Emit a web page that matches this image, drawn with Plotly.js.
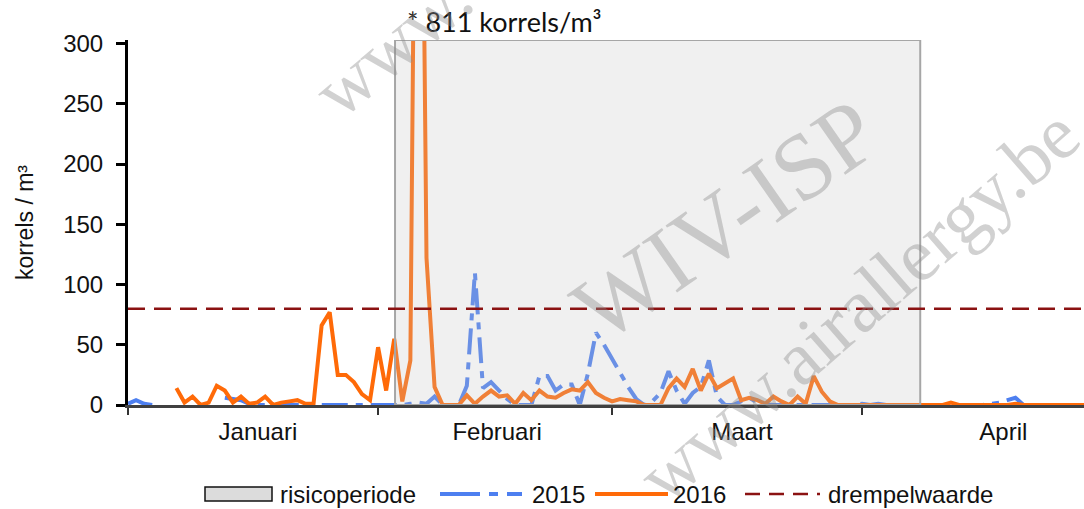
<!DOCTYPE html>
<html>
<head>
<meta charset="utf-8">
<script src="https://cdn.plot.ly/plotly-3.0.1.min.js"></script>
<style>html,body{margin:0;padding:0;background:#fff;}#chart{width:1084px;height:509px;}</style>
</head>
<body>
<div id="chart"></div>
<script>
// Day index: 0 = 1 januari
const pollen2016 = [
  null, null, null, null, null, null,
  14, 2, 7, 0, 2, 16, 12, 2, 7, 1,
  2, 7, 0, 2, 3, 4, 1, 1, 66, 77,
  25, 25, 19, 9, 4, 48, 12, 55, 3, 37,
  811, 122, 15, 0, 0, 0, 8, 1, 7, 12,
  7, 8, 1, 10, 4, 12, 7, 6, 10, 13,
  12, 19, 10, 6, 3, 5, 4, 3, 0, 0,
  0, 14, 22, 15, 30, 12, 26, 14, 18, 22,
  4, 6, 4, 1, 7, 3, 0, 7, 1, 24,
  11, 3, 0, 0, 0, 0, 0, 0, 0, 0,
  0, 0, 0, 0, 0, 0, 2, 0, 0, 0,
  0, 0, 0, 0, 1, 0, 0, 0, 0, 0,
  0, 0, 0, 0
];
const pollen2015 = [
  1, 4, 1, 0, null, null, null, null, null, null,
  null, null, 6, 5, 4, 1, 0, 0, 0, 0,
  0, 0, 0, 0, 0, 0, 0, 0, 0, 0,
  0, 0, 0, 0, 0, 1, 2, 1, 7, 0,
  0, 0, 16, 110, 14, 19, 12, 5, 0, 0,
  0, 24, 24, 12, 17, 17, 0, 26, 60, 50,
  38, 26, 15, 5, 0, 3, 10, 28, 12, 1,
  10, 15, 37, 7, 0, 0, 3, 6, 2, 0,
  0, 0, 0, 0, 0, 0, 0, 0, 0, 0,
  0, 1, 0, 1, 0, 0, 0, 0, 0, 0,
  0, 0, 0, 0, 0, 0, 0, 1, 2, 4,
  6, 0, 0, 0, 0, 0, 0, 0, 0, 0
];
const riskPeriod = [33.1, 98.2];      // start / end day of the risk period
const thresholdValue = 80;            // drempelwaarde
const monthStarts = [0, 31, 60, 91];
const monthLabelPos = [16.1, 45.75, 76.1, 108.5];
const monthLabels = ['Januari', 'Februari', 'Maart', 'April'];
const yTicks = [0, 50, 100, 150, 200, 250, 300];
const legendNames = ['risicoperiode', '2015', '2016', 'drempelwaarde'];
const peakNote = '* 811 korrels/m³';
const xMax = 118.5, yMax = 303;

const days2016 = pollen2016.map((_, i) => i);
const days2015 = pollen2015.map((_, i) => i);

const FONT = 'Liberation Sans, Arial, sans-serif';
const C2015 = '#4d7ff0', C2016 = '#ff6a08', CTHR = '#8b1212';
const DASH2015 = '26px,8px,7px,8px', DASHTHR = '17px,9px';

const traces = [
  {
    x: days2015, y: pollen2015, type: 'scatter', mode: 'lines', name: legendNames[1],
    line: {color: C2015, width: 4, dash: DASH2015}, connectgaps: false, hoverinfo: 'skip'
  },
  {
    x: days2016, y: pollen2016, type: 'scatter', mode: 'lines', name: legendNames[2],
    line: {color: C2016, width: 4}, connectgaps: false, hoverinfo: 'skip'
  },
  {
    x: [riskPeriod[0], riskPeriod[1], riskPeriod[1], riskPeriod[0], riskPeriod[0]],
    y: [0, 0, yMax, yMax, 0],
    type: 'scatter', mode: 'lines', fill: 'toself', name: legendNames[0],
    fillcolor: 'rgba(195,195,195,0.25)', line: {color: '#a6a6a6', width: 2}, hoverinfo: 'skip'
  },
  {
    x: [0, xMax], y: [thresholdValue, thresholdValue], type: 'scatter', mode: 'lines',
    name: legendNames[3], line: {color: CTHR, width: 2.5, dash: DASHTHR}, hoverinfo: 'skip'
  }
];

// manual legend (pixel positions converted to paper coordinates)
const PL = 128, PW = 956, PB = 405, PH = 365;
const px = v => (v - PL) / PW;
const py = v => (PB - v) / PH;
const LY = 494;

const shapes = [
  {type: 'rect', xref: 'paper', yref: 'paper', x0: px(205), x1: px(272), y0: py(501), y1: py(487),
   fillcolor: '#dcdcdc', line: {color: '#111', width: 1.5}},
  {type: 'line', xref: 'paper', yref: 'paper', x0: px(440), x1: px(522), y0: py(LY), y1: py(LY),
   line: {color: C2015, width: 4, dash: '40px,9px,9px,9px'}},
  {type: 'line', xref: 'paper', yref: 'paper', x0: px(595), x1: px(668), y0: py(LY), y1: py(LY),
   line: {color: C2016, width: 4}},
  {type: 'line', xref: 'paper', yref: 'paper', x0: px(745), x1: px(820), y0: py(LY), y1: py(LY),
   line: {color: CTHR, width: 2.5, dash: '15px,9px'}}
];
const legendTextX = [278, 530, 671, 826];

const wmFont = {family: 'Liberation Serif, DejaVu Serif, serif', color: 'rgba(140,140,140,0.40)'};

const annotations = [
  {
    xref: 'x', yref: 'paper', x: riskPeriod[0] + 1.2, y: py(22), xanchor: 'left', yanchor: 'middle',
    text: peakNote, showarrow: false, font: {size: 27, family: 'Lato, Carlito, sans-serif', color: '#111'}
  },
  {xref: 'paper', yref: 'paper', x: px(725), y: py(220), xanchor: 'center', yanchor: 'middle',
   text: 'WIV-ISP', showarrow: false, textangle: -35, font: Object.assign({size: 94}, wmFont)},
  {xref: 'paper', yref: 'paper', x: px(858), y: py(305), xanchor: 'center', yanchor: 'middle',
   text: 'www.airallergy.be', showarrow: false, textangle: -41, font: Object.assign({size: 76}, wmFont)},
  {xref: 'paper', yref: 'paper', x: px(392), y: py(44), xanchor: 'center', yanchor: 'middle',
   text: 'www.', showarrow: false, textangle: -40, font: Object.assign({size: 76}, wmFont)}
];
legendNames.forEach((n, i) => annotations.push({
  xref: 'paper', yref: 'paper', x: px(legendTextX[i]), y: py(LY), xanchor: 'left', yanchor: 'middle',
  text: n, showarrow: false, font: {size: 24, family: FONT, color: '#111'}
}));

const layout = {
  width: 1084, height: 509,
  margin: {l: 128, r: 0, t: 40, b: 104},
  paper_bgcolor: '#ffffff', plot_bgcolor: '#ffffff',
  font: {family: FONT, color: '#222'},
  showlegend: false,
  xaxis: {
    range: [0, xMax], showgrid: false, zeroline: false,
    showline: true, linecolor: '#404040', linewidth: 2.5,
    tickmode: 'array', tickvals: monthLabelPos, ticktext: monthLabels,
    ticks: '', ticklabelstandoff: 4,
    tickfont: {size: 24, family: FONT, color: '#111'},
    minor: {tickmode: 'array', tickvals: monthStarts, ticks: 'outside', ticklen: 7, tickwidth: 1.5, tickcolor: '#333', showgrid: false}
  },
  yaxis: {
    range: [0, yMax], showgrid: false, zeroline: false,
    showline: true, linecolor: '#000', linewidth: 3,
    tickmode: 'array', tickvals: yTicks, ticks: 'outside', ticklen: 9, tickwidth: 3, tickcolor: '#000',
    ticklabelstandoff: 8,
    tickfont: {size: 24, family: FONT, color: '#111'},
    title: {text: 'korrels / m³', font: {size: 23, family: FONT, color: '#111'}, standoff: 24}
  },
  shapes: shapes,
  annotations: annotations
};

Plotly.newPlot('chart', traces, layout, {staticPlot: true, displayModeBar: false});
</script>
</body>
</html>
